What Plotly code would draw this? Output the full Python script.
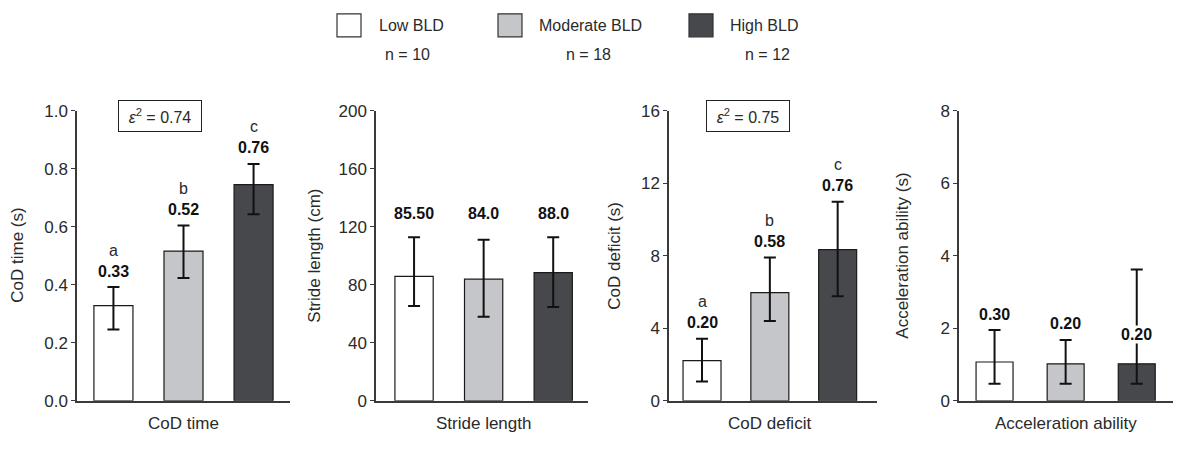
import plotly.graph_objects as go

W, H = 1181, 453

groups = ["Low BLD", "Moderate BLD", "High BLD"]
group_n = ["n = 10", "n = 18", "n = 12"]
bar_colors = ["#ffffff", "#c5c6ca", "#46484c"]

panels = ["CoD time", "Stride length", "CoD deficit", "Acceleration ability"]
y_titles = ["CoD time (s)", "Stride length (cm)", "CoD deficit (s)", "Acceleration ability (s)"]

cod_time_mean = [0.328, 0.516, 0.745]
cod_time_upper = [0.392, 0.604, 0.816]
cod_time_lower = [0.246, 0.423, 0.643]
cod_time_labels = ["0.33", "0.52", "0.76"]
cod_time_letters = ["a", "b", "c"]

stride_mean = [85.8, 83.8, 88.3]
stride_upper = [112.7, 110.9, 112.7]
stride_lower = [65.3, 57.9, 64.7]
stride_labels = ["85.50", "84.0", "88.0"]

deficit_mean = [2.22, 5.96, 8.33]
deficit_upper = [3.42, 7.9, 10.98]
deficit_lower = [1.07, 4.4, 5.76]
deficit_labels = ["0.20", "0.58", "0.76"]
deficit_letters = ["a", "b", "c"]

accel_mean = [1.07, 1.02, 1.02]
accel_upper = [1.95, 1.68, 3.62]
accel_lower = [0.47, 0.47, 0.47]
accel_labels = ["0.30", "0.20", "0.20"]

effect_sizes = ["0.74", None, "0.75", None]

y_ranges = [[0, 1.0], [0, 200], [0, 16], [0, 8]]
y_dticks = [0.2, 40, 4, 2]
y_tickfmt = [".1f", "d", "d", "d"]

# pixel layout
axis_left = [77, 376, 669, 959]
axis_right = [290, 588, 877, 1173]
x_ranges = [[-0.52, 2.52], [-0.547, 2.50], [-0.487, 2.58], [-0.50, 2.51]]
bar_widths = [0.557, 0.55, 0.56, 0.52]
ytitle_x = [18, 315, 615, 903]
plot_top, plot_bottom = 106, 409

means = [cod_time_mean, stride_mean, deficit_mean, accel_mean]
uppers = [cod_time_upper, stride_upper, deficit_upper, accel_upper]
lowers = [cod_time_lower, stride_lower, deficit_lower, accel_lower]

FONT = "Liberation Sans, Arial, sans-serif"
TXT = "#2a2a2a"
AX = "#3a3a3a"

fig = go.Figure()
ydom = [(H - plot_bottom) / H, (H - plot_top) / H]

annotations = []
shapes = []

for i in range(4):
    xa = "x" if i == 0 else f"x{i+1}"
    ya = "y" if i == 0 else f"y{i+1}"
    m = means[i]
    plus = [u - v for u, v in zip(uppers[i], m)]
    minus = [v - l for v, l in zip(m, lowers[i])]
    fig.add_trace(go.Bar(
        x=[0, 1, 2], y=m, width=bar_widths[i],
        marker=dict(color=bar_colors, line=dict(color="#1a1a1a", width=1.2)),
        error_y=dict(type="data", symmetric=False, array=plus, arrayminus=minus,
                     color="#111111", thickness=2, width=6),
        xaxis=xa, yaxis=ya, showlegend=False, hoverinfo="skip",
    ))
    xkey = "xaxis" if i == 0 else f"xaxis{i+1}"
    ykey = "yaxis" if i == 0 else f"yaxis{i+1}"
    fig.update_layout(**{
        xkey: dict(domain=[axis_left[i] / W, axis_right[i] / W], range=x_ranges[i],
                   showticklabels=False, ticks="", showgrid=False, zeroline=False,
                   showline=True, linecolor=AX, linewidth=1.5, anchor=ya, fixedrange=True),
        ykey: dict(domain=ydom, range=y_ranges[i], dtick=y_dticks[i], tick0=0,
                   tickformat=y_tickfmt[i], ticks="outside", ticklen=4, tickcolor=AX,
                   tickwidth=1.2, showgrid=False, zeroline=False, showline=True,
                   linecolor=AX, linewidth=1.5, anchor=xa,
                   tickfont=dict(family=FONT, size=17, color=TXT), fixedrange=True),
    })
    # x title
    annotations.append(dict(x=1, y=1 - 433 / H, xref=xa, yref="paper", text=panels[i],
                            showarrow=False, font=dict(family=FONT, size=17, color=TXT),
                            xanchor="center", yanchor="middle"))
    # y title
    annotations.append(dict(x=ytitle_x[i] / W, y=(ydom[0] + ydom[1]) / 2, xref="paper",
                            yref="paper", text=y_titles[i], textangle=-90, showarrow=False,
                            font=dict(family=FONT, size=17, color=TXT),
                            xanchor="center", yanchor="middle"))
    if effect_sizes[i]:
        annotations.append(dict(x=1 / 3 if i == 0 else 0.66, y=1 - 112 / H,
                                xref=f"{xa} domain", yref="paper",
                                text=f"<i>ε</i><sup>2</sup> = {effect_sizes[i]}",
                                showarrow=False, font=dict(family=FONT, size=16, color=TXT),
                                bordercolor="#222222", borderwidth=1, borderpad=5,
                                width=72, height=20, bgcolor="white",
                                xanchor="center", yanchor="middle"))

# fix epsilon box x positions to pixel centres
eps_centres = {0: 160, 2: 748}

def bold_labels(xa, ya, ups, labels, letters=None):
    for j in range(3):
        annotations.append(dict(x=j, y=ups[j], xref=xa, yref=ya, text=f"<b>{labels[j]}</b>",
                                showarrow=False, yshift=16, yanchor="middle",
                                font=dict(family=FONT, size=16, color="#111111")))
        if letters:
            annotations.append(dict(x=j, y=ups[j], xref=xa, yref=ya, text=letters[j],
                                    showarrow=False, yshift=37, yanchor="middle",
                                    font=dict(family=FONT, size=16, color=TXT)))

bold_labels("x", "y", cod_time_upper, cod_time_labels, cod_time_letters)
bold_labels("x3", "y3", deficit_upper, deficit_labels, deficit_letters)
# stride labels sit on a common line
stride_label_y = 129.4
for j in range(3):
    annotations.append(dict(x=j, y=stride_label_y, xref="x2", yref="y2",
                            text=f"<b>{stride_labels[j]}</b>", showarrow=False,
                            yanchor="middle", font=dict(family=FONT, size=16, color="#111111")))
# acceleration labels
accel_label_y = [accel_upper[0], accel_upper[1], 1.82]
accel_shift = [16, 16, 0]
for j in range(3):
    annotations.append(dict(x=j, y=accel_label_y[j], xref="x4", yref="y4",
                            text=f"<b>{accel_labels[j]}</b>", showarrow=False,
                            yshift=accel_shift[j], yanchor="middle",
                            bgcolor="white" if j == 2 else None, borderpad=0,
                            font=dict(family=FONT, size=16, color="#111111")))

# legend (custom)
leg_box_left = [337, 498, 689]
leg_text_left = [377, 537, 728]
leg_n_centre = [407, 588, 767]
for k in range(3):
    shapes.append(dict(type="rect", xref="paper", yref="paper",
                       x0=leg_box_left[k] / W, x1=(leg_box_left[k] + 24) / W,
                       y0=1 - 29 / H, y1=1 - 5 / H,
                       fillcolor=bar_colors[k], line=dict(color="#333333", width=1.2)))
    annotations.append(dict(x=leg_text_left[k] / W, y=1 - 17 / H, xref="paper", yref="paper",
                            text=groups[k], showarrow=False, xanchor="left", yanchor="middle",
                            font=dict(family=FONT, size=16, color=TXT)))
    annotations.append(dict(x=leg_n_centre[k] / W, y=1 - 47 / H, xref="paper", yref="paper",
                            text=group_n[k], showarrow=False, xanchor="center", yanchor="middle",
                            font=dict(family=FONT, size=16, color=TXT)))

# place epsilon boxes in paper pixels
for a in annotations:
    if isinstance(a.get("text"), str) and "ε" in a["text"]:
        key = 0 if "0.74" in a["text"] else 2
        a["xref"] = "paper"
        a["x"] = eps_centres[key] / W

fig.update_layout(
    width=W, height=H, margin=dict(l=0, r=0, t=0, b=0),
    paper_bgcolor="white", plot_bgcolor="white",
    annotations=annotations, shapes=shapes, showlegend=False,
    font=dict(family=FONT, color=TXT),
)

fig.write_html("out.html", config={"displayModeBar": False})
